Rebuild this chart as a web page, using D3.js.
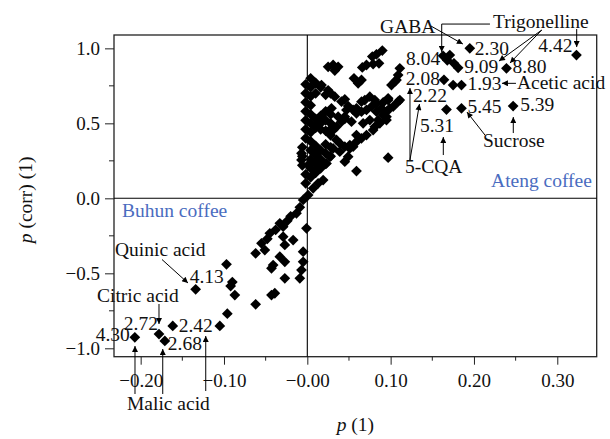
<!DOCTYPE html>
<html><head><meta charset="utf-8">
<script src="https://cdn.jsdelivr.net/npm/d3@7"></script>
<style>
html,body{margin:0;padding:0;background:#fff;}
svg{display:block;font-family:"Liberation Serif","DejaVu Serif",serif;}
</style></head>
<body><svg id="c" width="610" height="439"></svg>
<script>
// ---------- data ----------
const xTicks = [-0.2, -0.1, 0, 0.1, 0.2, 0.3];
const xTickLabels = ["\u22120.20", "\u22120.10", "\u22120.00", "0.10", "0.20", "0.30"];
const xMinor = [-0.15, -0.05, 0.05, 0.15, 0.25];
const yTicks = [1, 0.5, 0, -0.5, -1];
const yTickLabels = ["1.0", "0.5", "0.0", "\u22120.5", "\u22121.0"];
const yMinor = [0.75, 0.25, -0.25, -0.75];

// loadings: [p(1), p(corr)(1)]
const tailPoints = [
  [-0.207,-0.927],[-0.178,-0.905],[-0.171,-0.951],[-0.1615,-0.851],[-0.134,-0.607],
  [-0.105,-0.851],[-0.096,-0.769],[-0.062,-0.707],[-0.087,-0.645],[-0.092,-0.585],
  [-0.09,-0.558],[-0.097,-0.44],[-0.062,-0.367],[-0.051,-0.345],[-0.045,-0.233],
  [-0.033,-0.167],[-0.029,-0.189],[-0.013,-0.1],[-0.02,-0.12],[-0.001,-0.2],
  [-0.029,-0.256],[-0.017,-0.278],[-0.027,-0.311],[-0.041,-0.445],[-0.043,-0.467],
  [-0.027,-0.423],[-0.033,-0.389],[-0.005,-0.356],[-0.005,-0.423],[-0.007,-0.478],
  [-0.009,-0.533],[-0.027,-0.533],[-0.039,-0.633],[-0.043,-0.645],[-0.005,-0.011],
  [0.001,0.022],[0.007,0.067],[0.013,0.1],[0.019,0.122],[-0.009,-0.06],[-0.024,-0.15],
  [-0.038,-0.21],[-0.055,-0.3],[-0.048,-0.27]
];
const columnPoints = [
  [-0.006,0.22],[-0.006,0.28],[-0.006,0.34],
  [-0.002,0.1],[-0.002,0.16],[-0.002,0.4],[-0.002,0.46],[-0.002,0.52],[-0.002,0.58],[-0.002,0.64],[-0.002,0.7],[-0.002,0.76],
  [0.004,0.14],[0.004,0.2],[0.004,0.26],[0.004,0.32],[0.004,0.38],[0.004,0.44],[0.004,0.5],[0.004,0.56],[0.004,0.62],[0.004,0.68],[0.004,0.74],[0.004,0.8],
  [0.01,0.17],[0.01,0.23],[0.01,0.29],[0.01,0.35],[0.01,0.47],[0.01,0.53],[0.01,0.7],[0.01,0.77],
  [0.016,0.2],[0.016,0.26],[0.016,0.32],[0.016,0.46],[0.016,0.5],[0.016,0.55],[0.016,0.74],
  [0.022,0.23],[0.022,0.3],[0.022,0.36],[0.022,0.45],[0.022,0.52],[0.022,0.58],[0.022,0.69],
  [0.028,0.28],[0.028,0.34],[0.028,0.42],[0.028,0.5],[0.028,0.56],[0.028,0.7]
];
const upperPoints = [
  [0.017,0.755],[0.025,0.72],[0.033,0.678],[0.041,0.645],[0.049,0.615],[0.045,0.66],
  [0.09,0.985],[0.083,0.96],[0.078,0.945],[0.086,0.9],[0.079,0.895],[0.071,0.889],[0.066,0.873],
  [0.025,0.877],[0.031,0.889],[0.037,0.877],[0.033,0.852],[0.065,0.789],[0.061,0.767],[0.056,0.8],
  [0.111,0.867],[0.109,0.822],[0.107,0.789],[0.105,0.778],[0.101,0.755],
  [0.059,0.567],[0.065,0.578],[0.071,0.589],[0.077,0.611],[0.083,0.633],[0.089,0.6],[0.095,0.578],
  [0.099,0.6],[0.109,0.644],[0.075,0.522],[0.085,0.522],[0.095,0.522],[0.067,0.5],[0.079,0.455],
  [0.071,0.422],[0.065,0.4],[0.059,0.378],[0.051,0.355],[0.045,0.344],[0.039,0.367],[0.035,0.389],
  [0.031,0.455],[0.035,0.477],[0.041,0.511],[0.045,0.544],[0.037,0.544],[0.047,0.589],[0.029,0.6],
  [0.075,0.678],[0.081,0.655],[0.069,0.655],[0.065,0.644],[0.091,0.639],[0.097,0.655],[0.111,0.655],
  [0.055,0.589],[0.059,0.6],[0.097,0.667],[0.103,0.611],[0.083,0.578],[0.091,0.555],
  [0.059,0.422],[0.081,0.477],[0.087,0.5],[0.095,0.544],[0.055,0.344],[0.051,0.333],[0.097,0.271],
  [0.059,0.182],[0.045,0.244],[0.053,0.511],[0.045,0.53],[0.029,0.467],
  [0.049,0.278],[0.039,0.311],[0.031,0.333],[0.027,0.278],[0.023,0.233],[0.001,0.222],[-0.007,0.3],[-0.007,0.256]
];
const rightPoints = [
  [0.195,1.0],[0.323,0.955],[0.239,0.867],[0.163,0.95],[0.171,0.955],[0.168,0.92],[0.176,0.9],
  [0.181,0.87],[0.164,0.79],[0.175,0.755],[0.185,0.755],[0.167,0.592],[0.185,0.6],[0.247,0.615]
];
const points = tailPoints.concat(columnPoints, upperPoints, rightPoints);

// labelled loadings (value labels next to the marked variables)
const valueLabels = [
  {t:"2.30", x:0.195, y:1.0,   a:"start", dx:5,  dy:7},
  {t:"4.42", x:0.323, y:0.955, a:"end",   dx:-4, dy:-3},
  {t:"8.80", x:0.239, y:0.867, a:"start", dx:6,  dy:5},
  {t:"9.09", x:0.181, y:0.87,  a:"start", dx:6,  dy:5},
  {t:"8.04", x:0.163, y:0.95,  a:"end",   dx:-3, dy:9},
  {t:"2.08", x:0.164, y:0.79,  a:"end",   dx:-4, dy:5},
  {t:"1.93", x:0.185, y:0.755, a:"start", dx:6,  dy:5},
  {t:"5.45", x:0.185, y:0.6,   a:"start", dx:6,  dy:5},
  {t:"5.39", x:0.247, y:0.615, a:"start", dx:7,  dy:5},
  {t:"4.13", x:-0.134, y:-0.607, a:"start", dx:-6, dy:-6},
  {t:"2.72", x:-0.178, y:-0.905, a:"end",   dx:-1, dy:-4},
  {t:"4.30", x:-0.207, y:-0.927, a:"end",   dx:-5, dy:4},
  {t:"2.68", x:-0.171, y:-0.951, a:"start", dx:3,  dy:9},
  {t:"2.42", x:-0.1615, y:-0.851, a:"start", dx:6, dy:6}
];
// free annotation texts (in data units)
const notes = [
  {t:"GABA", x:0.0873, y:1.102, a:"start"},
  {t:"Trigonelline", x:0.2228, y:1.135, a:"start"},
  {t:"Acetic acid", x:0.2516, y:0.7287, a:"start"},
  {t:"2.22", x:0.1268, y:0.644, a:"start"},
  {t:"5.31", x:0.1352, y:0.444, a:"start"},
  {t:"Sucrose", x:0.2108, y:0.34, a:"start"},
  {t:"5-CQA", x:0.1172, y:0.1667, a:"start"},
  {t:"Quinic acid", x:-0.2308, y:-0.3847, a:"start"},
  {t:"Citric acid", x:-0.2524, y:-0.6893, a:"start"},
  {t:"Malic acid", x:-0.2164, y:-1.4113, a:"start"}
];
const groups = [
  {t:"Buhun coffee", x:-0.2224, y:-0.1227, a:"start"},
  {t:"Ateng coffee", x:0.3416, y:0.0753, a:"end"}
];
// arrows (polylines in data units, arrowhead at last point)
const arrows = [
  [[0.1484,1.1487],[0.1867,1.0287]],
  [[0.2192,1.162],[0.1613,1.162],[0.1613,0.9753]],
  [[0.2813,1.122],[0.23,0.9153]],
  [[0.2813,1.122],[0.2432,0.902]],
  [[0.3233,1.1287],[0.3233,1.0087]],
  [[0.2504,0.7667],[0.2336,0.7667]],
  [[0.1232,0.2553],[0.1232,0.7353]],
  [[0.1232,0.2553],[0.1346,0.6287]],
  [[0.1632,0.2887],[0.1632,0.4087]],
  [[0.2132,0.422],[0.1916,0.5753]],
  [[0.2472,0.4353],[0.2472,0.542]],
  [[-0.1744,-0.408],[-0.1432,-0.5647]],
  [[-0.178,-0.7047],[-0.178,-0.838]],
  [[-0.2068,-1.3047],[-0.2068,-0.9847]],
  [[-0.1735,-1.3047],[-0.1735,-1.0047]],
  [[-0.1219,-1.2847],[-0.1219,-0.918]]
];

// ---------- drawing ----------
const svg = d3.select("#c");
const L = 114, R = 596.7, T = 35, B = 356.7;
const x = d3.scaleLinear().domain([-0.232, 0.3473]).range([L, R]);
const y = d3.scaleLinear().domain([1.089, -1.056]).range([T, B]);
const FS = 19.5, TFS = 19;

svg.append("defs").append("marker")
  .attr("id","ah").attr("viewBox","0 0 10 10").attr("refX",10).attr("refY",5)
  .attr("markerWidth",7).attr("markerHeight",6).attr("markerUnits","userSpaceOnUse")
  .attr("orient","auto")
  .append("path").attr("d","M0,0L10,5L0,10z").attr("fill","#000");

// frame
svg.append("rect").attr("x",L).attr("y",T).attr("width",R-L).attr("height",B-T)
  .attr("fill","none").attr("stroke","#222").attr("stroke-width",1.3);
// zero lines
svg.append("line").attr("x1",L).attr("x2",R).attr("y1",y(0)).attr("y2",y(0)).attr("stroke","#000").attr("stroke-width",1.1);
svg.append("line").attr("x1",x(0)).attr("x2",x(0)).attr("y1",T).attr("y2",B).attr("stroke","#000").attr("stroke-width",1.1);

// axes
const gx = svg.append("g").attr("transform",`translate(0,${B})`)
  .call(d3.axisBottom(x).tickValues(xTicks).tickFormat((d,i)=>xTickLabels[i]).tickSize(8).tickPadding(9));
gx.select(".domain").remove();
gx.selectAll("text").attr("font-size",TFS).attr("font-family","Liberation Serif").attr("fill","#111");
gx.selectAll("line").attr("stroke","#222");
svg.append("g").selectAll("line").data(xMinor).join("line")
  .attr("x1",d=>x(d)).attr("x2",d=>x(d)).attr("y1",B).attr("y2",B+4).attr("stroke","#222");

const gy = svg.append("g").attr("transform",`translate(${L},0)`)
  .call(d3.axisLeft(y).tickValues(yTicks).tickFormat((d,i)=>yTickLabels[i]).tickSize(9).tickPadding(5));
gy.select(".domain").remove();
gy.selectAll("text").attr("font-size",TFS).attr("font-family","Liberation Serif").attr("fill","#111");
gy.selectAll("line").attr("stroke","#222");
svg.append("g").selectAll("line").data(yMinor).join("line")
  .attr("x1",L-5).attr("x2",L).attr("y1",d=>y(d)).attr("y2",d=>y(d)).attr("stroke","#222");

// points (diamonds)
const diamond = d3.symbol().type(d3.symbolSquare).size(58);
svg.append("g").selectAll("path").data(points).join("path")
  .attr("d", diamond)
  .attr("transform", d=>`translate(${x(d[0])},${y(d[1])}) rotate(45)`)
  .attr("fill","#000");

// arrows
const line = d3.line().x(d=>x(d[0])).y(d=>y(d[1]));
svg.append("g").selectAll("path").data(arrows).join("path")
  .attr("d", line).attr("fill","none").attr("stroke","#000").attr("stroke-width",1)
  .attr("marker-end","url(#ah)");

// value labels
svg.append("g").selectAll("text").data(valueLabels).join("text")
  .attr("x",d=>x(d.x)+d.dx).attr("y",d=>y(d.y)+d.dy).attr("text-anchor",d=>d.a)
  .attr("font-size",FS).attr("fill","#111").text(d=>d.t);
// notes
svg.append("g").selectAll("text").data(notes).join("text")
  .attr("x",d=>x(d.x)).attr("y",d=>y(d.y)).attr("text-anchor",d=>d.a)
  .attr("font-size",FS).attr("fill","#111").text(d=>d.t);
svg.append("g").selectAll("text").data(groups).join("text")
  .attr("x",d=>x(d.x)).attr("y",d=>y(d.y)).attr("text-anchor",d=>d.a)
  .attr("font-size",FS).attr("fill","#4a6cc0").text(d=>d.t);

// axis titles
const xt = svg.append("text").attr("x",(L+R)/2).attr("y",431).attr("text-anchor","middle").attr("font-size",FS).attr("fill","#111");
xt.append("tspan").attr("font-style","italic").text("p");
xt.append("tspan").text(" (1)");
const yt = svg.append("text").attr("transform",`translate(32,${(T+B)/2+4}) rotate(-90)`).attr("text-anchor","middle").attr("font-size",FS).attr("fill","#111");
yt.append("tspan").attr("font-style","italic").text("p");
yt.append("tspan").text(" (corr) (1)");
</script></body></html>
